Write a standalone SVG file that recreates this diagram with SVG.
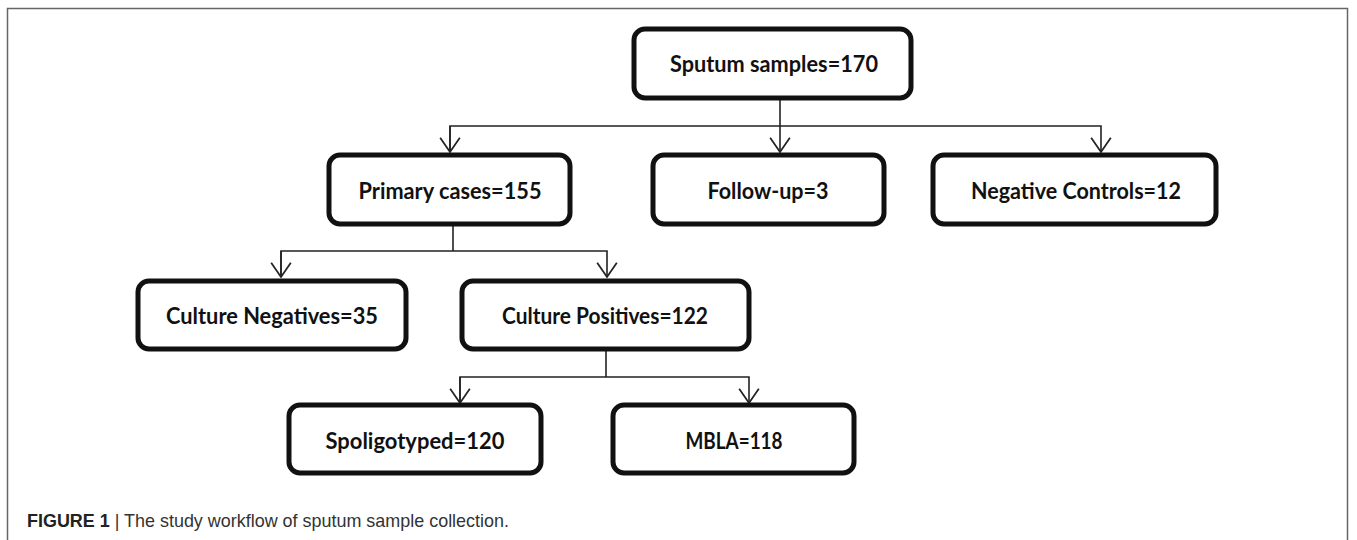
<svg xmlns="http://www.w3.org/2000/svg" width="1357" height="540" viewBox="0 0 1357 540">
  <style>
    .box { fill: #ffffff; stroke: #111111; stroke-width: 5; }
    .lbl { font-family: Lato, "Liberation Sans", sans-serif; font-weight: bold; font-size: 22px; fill: #111111; text-anchor: middle; dominant-baseline: central; }
    .conn { fill: none; stroke: #222222; stroke-width: 1.6; }
    .cap { font-family: "Liberation Sans", Arial, sans-serif; font-size: 19px; fill: #333333; }
  </style>
  <defs>
    <marker id="arr" markerUnits="userSpaceOnUse" markerWidth="20" markerHeight="24" refX="0" refY="0" viewBox="-15 -11 17 22" orient="auto" overflow="visible">
      <path d="M-13,-9 L0,0 L-13,9" fill="none" stroke="#222222" stroke-width="1.6"/>
    </marker>
  </defs>
  <rect width="1357" height="540" fill="#ffffff"/>
  <path d="M7.5,545 V8.5 H1347.5 V545" fill="none" stroke="#666666" stroke-width="1.5"/>

  <g id="connectors">
    <path class="conn" d="M780,98 V152" marker-end="url(#arr)"/>
    <path class="conn" d="M450,152 V126 H1101 V152" marker-end="url(#arr)"/>
    <path class="conn" d="M450,126 V152" marker-end="url(#arr)"/>
    <path class="conn" d="M453,224 V251"/>
    <path class="conn" d="M281,277 V251 H607 V277" marker-end="url(#arr)"/>
    <path class="conn" d="M281,251 V277" marker-end="url(#arr)"/>
    <path class="conn" d="M606,349 V377"/>
    <path class="conn" d="M460,403 V377 H749 V403" marker-end="url(#arr)"/>
    <path class="conn" d="M460,377 V403" marker-end="url(#arr)"/>
  </g>

  <g id="sputum">
    <rect class="box" x="634" y="29" width="277" height="69" rx="11"/>
    <text class="lbl" x="774" y="63" textLength="208" lengthAdjust="spacingAndGlyphs">Sputum samples=170</text>
  </g>
  <g id="primary">
    <rect class="box" x="329" y="155" width="241" height="69" rx="11"/>
    <text class="lbl" x="450" y="190" textLength="183" lengthAdjust="spacingAndGlyphs">Primary cases=155</text>
  </g>
  <g id="followup">
    <rect class="box" x="653" y="155" width="231" height="69" rx="11"/>
    <text class="lbl" x="768" y="190" textLength="121" lengthAdjust="spacingAndGlyphs">Follow-up=3</text>
  </g>
  <g id="negcontrols">
    <rect class="box" x="933" y="155" width="283" height="69" rx="11"/>
    <text class="lbl" x="1076" y="190" textLength="210" lengthAdjust="spacingAndGlyphs">Negative Controls=12</text>
  </g>
  <g id="culneg">
    <rect class="box" x="138" y="281" width="268" height="68" rx="11"/>
    <text class="lbl" x="272" y="315" textLength="212" lengthAdjust="spacingAndGlyphs">Culture Negatives=35</text>
  </g>
  <g id="culpos">
    <rect class="box" x="462" y="281" width="287" height="68" rx="11"/>
    <text class="lbl" x="605" y="315" textLength="206" lengthAdjust="spacingAndGlyphs">Culture Positives=122</text>
  </g>
  <g id="spoligo">
    <rect class="box" x="289" y="405" width="252" height="68" rx="11"/>
    <text class="lbl" x="415" y="440" textLength="179" lengthAdjust="spacingAndGlyphs">Spoligotyped=120</text>
  </g>
  <g id="mbla">
    <rect class="box" x="613" y="405" width="241" height="68" rx="11"/>
    <text class="lbl" x="734" y="440" textLength="97" lengthAdjust="spacingAndGlyphs">MBLA=118</text>
  </g>

  <g id="caption">
    <text class="cap" x="27" y="527" textLength="482" lengthAdjust="spacingAndGlyphs"><tspan font-weight="bold" fill="#222222">FIGURE 1</tspan> | The study workflow of sputum sample collection.</text>
  </g>
</svg>
